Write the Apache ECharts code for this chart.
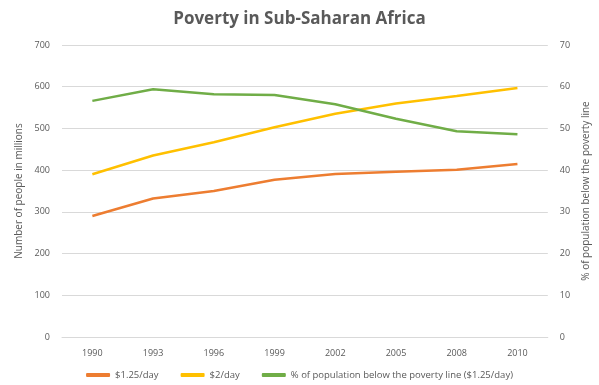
<!DOCTYPE html>
<html><head><meta charset="utf-8">
<script src="https://cdn.jsdelivr.net/npm/echarts@6/dist/echarts.min.js"></script>
<style>html,body{margin:0;padding:0;background:#fff}#c{width:599px;height:385px}</style>
</head><body><div id="c"></div>
<script>
const years = ['1990','1993','1996','1999','2002','2005','2008','2010'];
const below125 = [290, 332, 350, 377, 391, 396, 401, 415];
const below2 = [390, 435, 467, 503, 535, 560, 578, 597];
const pctBelow = [56.6, 59.4, 58.2, 58.0, 55.8, 52.3, 49.3, 48.6];
const leftTicks = [0, 700, 100];
const rightTicks = [0, 70, 10];

const txt = '#595959';
const chart = echarts.init(document.getElementById('c'));
chart.setOption({
  animation: false,
  textStyle: {fontFamily: 'Open Sans'},
  title: {text: 'Poverty in Sub-Saharan Africa', left: 'center', top: 6,
    textStyle: {fontFamily: 'Open Sans', fontSize: 17, fontWeight: 'bold', color: '#595959'}},
  grid: {left: 62, right: 44, top: 45, bottom: 48},
  legend: {bottom: 0, left: 'center', itemWidth: 24, itemHeight: 4, itemGap: 22,
    icon: 'roundRect', textStyle: {fontSize: 9.5, color: txt}},
  xAxis: {type: 'category', data: years, boundaryGap: true,
    axisLine: {show: true, lineStyle: {color: '#d9d9d9'}}, axisTick: {show: false},
    axisLabel: {color: txt, fontSize: 9, margin: 12}},
  yAxis: [
    {type: 'value', min: leftTicks[0], max: leftTicks[1], interval: leftTicks[2],
     name: 'Number of people in millions', nameLocation: 'middle', nameGap: 38,
     nameTextStyle: {color: txt, fontSize: 10},
     axisLabel: {color: txt, fontSize: 9, margin: 12},
     splitLine: {lineStyle: {color: '#d9d9d9'}}, axisLine: {show: false}, axisTick: {show: false}},
    {type: 'value', min: rightTicks[0], max: rightTicks[1], interval: rightTicks[2],
     name: '% of population below the poverty line', nameLocation: 'middle', nameGap: 32,
     nameRotate: 90,
     nameTextStyle: {color: txt, fontSize: 10},
     axisLabel: {color: txt, fontSize: 9, margin: 12},
     splitLine: {show: false}, axisLine: {show: false}, axisTick: {show: false}}
  ],
  series: [
    {name: '$1.25/day', type: 'line', data: below125, yAxisIndex: 0, showSymbol: false,
     lineStyle: {width: 2.5, color: '#ED7D31'}, itemStyle: {color: '#ED7D31'}},
    {name: '$2/day', type: 'line', data: below2, yAxisIndex: 0, showSymbol: false,
     lineStyle: {width: 2.5, color: '#FFC000'}, itemStyle: {color: '#FFC000'}},
    {name: '% of population below the poverty line ($1.25/day)', type: 'line', data: pctBelow,
     yAxisIndex: 1, showSymbol: false,
     lineStyle: {width: 2.5, color: '#70AD47'}, itemStyle: {color: '#70AD47'}}
  ]
});
</script></body></html>
